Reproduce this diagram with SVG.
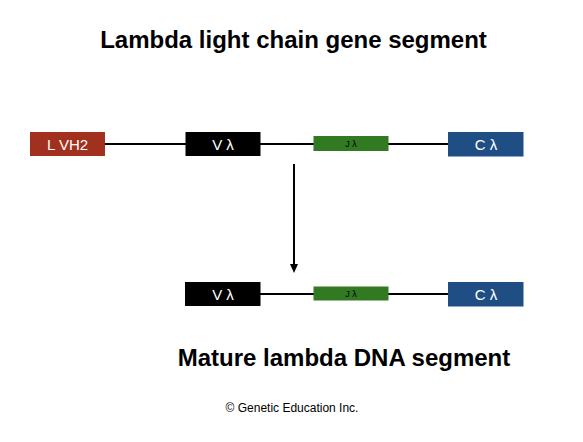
<svg xmlns="http://www.w3.org/2000/svg" width="583" height="442" viewBox="0 0 583 442">
<defs>
<style>
.t{font-family:"Liberation Sans",Arial,sans-serif;font-weight:bold;fill:#000}
.lbl{font-family:"Liberation Sans",Arial,sans-serif;fill:#fff;text-anchor:middle}
.ln{stroke:#000;stroke-width:2;fill:none}
</style>
</defs>
<rect width="583" height="442" fill="#fff"/>
<text class="t" x="293.5" y="48" font-size="24" text-anchor="middle">Lambda light chain gene segment</text>
<g id="connectors">
<line class="ln" x1="105" y1="144" x2="448" y2="144"/>
<line class="ln" x1="260" y1="294" x2="448" y2="294"/>
<line class="ln" x1="294" y1="164" x2="294" y2="264"/>
<path d="M290,264 L298,264 L294,273 Z" fill="#000"/>
</g>
<g id="lvh2"><rect x="30" y="132" width="75" height="24" fill="#A2301E"/><text class="lbl" x="67.5" y="149.5" font-size="15">L VH2</text></g>
<g id="v1"><rect x="185.5" y="132" width="75" height="24" fill="#000"/><text class="lbl" x="223" y="149.5" font-size="15">V λ</text></g>
<g id="j1"><rect x="313.5" y="136" width="75" height="15" fill="#317A22"/><text x="351" y="147" font-size="9" text-anchor="middle" font-family="Liberation Sans,Arial,sans-serif" fill="#000">J λ</text></g>
<g id="c1"><rect x="448" y="132" width="75.5" height="24.5" fill="#1F4E85"/><text class="lbl" x="486" y="149.5" font-size="15">C λ</text></g>
<g id="v2"><rect x="185" y="282" width="75.5" height="24" fill="#000"/><text class="lbl" x="223" y="299.5" font-size="15">V λ</text></g>
<g id="j2"><rect x="313.5" y="286.5" width="75" height="14" fill="#317A22"/><text x="351" y="297" font-size="9" text-anchor="middle" font-family="Liberation Sans,Arial,sans-serif" fill="#000">J λ</text></g>
<g id="c2"><rect x="448" y="282" width="75.5" height="24.5" fill="#1F4E85"/><text class="lbl" x="486" y="299.5" font-size="15">C λ</text></g>
<text class="t" x="344" y="366" font-size="24" text-anchor="middle">Mature lambda DNA segment</text>
<text x="292" y="412" font-size="12" text-anchor="middle" font-family="Liberation Sans,Arial,sans-serif" fill="#000">© Genetic Education Inc.</text>
</svg>
